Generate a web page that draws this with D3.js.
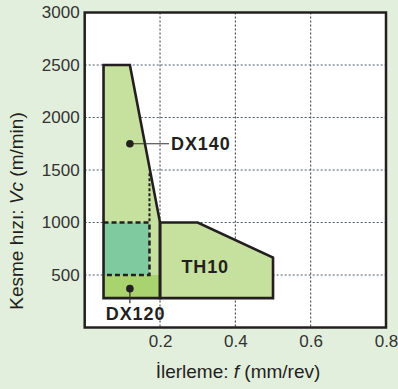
<!DOCTYPE html>
<html><head><meta charset="utf-8">
<script src="https://cdn.jsdelivr.net/npm/d3@7"></script>
<style>
html,body{margin:0;padding:0;background:#e2efdc;}
svg{display:block;font-family:"Liberation Sans",Arial,Helvetica,sans-serif;}
</style></head>
<body><svg id="c" width="398" height="389"></svg>
<script>
// ---- data ----
const xTicks = [0.2, 0.4, 0.6, 0.8];
const yTicks = [500, 1000, 1500, 2000, 2500, 3000];
const dx140Region = [[0.05,2500],[0.12,2500],[0.2,1000],[0.2,280],[0.05,280]];
const th10Region  = [[0.2,1000],[0.3,1000],[0.5,665],[0.5,280],[0.2,280]];
const dx120Strip  = [[0.05,280],[0.2,280],[0.2,500],[0.05,500]];
const dx120Core   = [[0.05,500],[0.172,500],[0.172,1000],[0.05,1000]];
const dx120Dashed = [[0.05,1000],[0.172,1000],[0.172,500],[0.05,500]];
const dx120Riser  = [[0.172,1470],[0.172,1000]];
const labelNames = ["DX140", "DX120", "TH10"];
const labelDots  = [[0.12,1750],[0.12,370]];
const labelEnds  = [[0.224,1750],[0.12,230]];
const th10LabelPos = [0.32,580];

const svg = d3.select("#c");
const x = d3.scaleLinear().domain([0,0.8]).range([84.7,386]);
const y = d3.scaleLinear().domain([0,3000]).range([327.5,12.5]);
const line = d3.line().x(d=>x(d[0])).y(d=>y(d[1]));
const ink = "#231f20";

// plot background
svg.append("rect").attr("x",x(0)).attr("y",y(3000)).attr("width",x(0.8)-x(0)).attr("height",y(0)-y(3000)).attr("fill","#fff");

// grid
const g = svg.append("g");
g.selectAll(".vg").data(xTicks.slice(0,-1)).enter().append("line")
  .attr("x1",d=>x(d)).attr("x2",d=>x(d)).attr("y1",y(3000)).attr("y2",y(0))
  .attr("stroke","#333").attr("stroke-width",1).attr("stroke-dasharray","2,2");
g.selectAll(".hg").data(yTicks.slice(0,-1)).enter().append("line")
  .attr("x1",x(0)).attr("x2",x(0.8)).attr("y1",d=>y(d)).attr("y2",d=>y(d))
  .attr("stroke","#4a5a6a").attr("stroke-width",1).attr("stroke-dasharray","2,2");

// regions
svg.append("path").attr("d",line(dx140Region)+"Z").attr("fill","#c6e09d");
svg.append("path").attr("d",line(th10Region)+"Z").attr("fill","#c6e09d");
svg.append("path").attr("d",line(dx120Strip)+"Z").attr("fill","#a8d36e");
svg.append("path").attr("d",line(dx120Core)+"Z").attr("fill","#80ca9f");
svg.append("path").attr("d",line(dx120Dashed)).attr("fill","none").attr("stroke",ink).attr("stroke-width",2.5).attr("stroke-dasharray","5,3");
svg.append("path").attr("d",line(dx120Riser)).attr("fill","none").attr("stroke",ink).attr("stroke-width",2).attr("stroke-dasharray","3,2");
svg.append("path").attr("d",line(dx140Region)+"Z").attr("fill","none").attr("stroke",ink).attr("stroke-width",2.6);
svg.append("path").attr("d",line(th10Region)+"Z").attr("fill","none").attr("stroke",ink).attr("stroke-width",2.6);

// frame
svg.append("rect").attr("x",x(0)).attr("y",y(3000)).attr("width",x(0.8)-x(0)).attr("height",y(0)-y(3000))
  .attr("fill","none").attr("stroke",ink).attr("stroke-width",2.5);

// axes
const yAxis = d3.axisLeft(y).tickValues(yTicks).tickSize(0).tickPadding(5).tickFormat(d3.format("d"));
const ya = svg.append("g").attr("transform",`translate(${x(0)},0)`).call(yAxis);
ya.select(".domain").remove();
ya.selectAll("text").attr("font-size",17).attr("fill","#333").attr("font-family","Liberation Sans, Arial, sans-serif");
const xAxis = d3.axisBottom(x).tickValues(xTicks).tickSize(0).tickPadding(7).tickFormat(d3.format(".1f"));
const xa = svg.append("g").attr("transform",`translate(0,${y(0)})`).call(xAxis);
xa.select(".domain").remove();
xa.selectAll("text").attr("font-size",17).attr("fill","#333").attr("font-family","Liberation Sans, Arial, sans-serif");

// axis titles
const xt = svg.append("text").attr("x",238).attr("y",378).attr("text-anchor","middle").attr("font-size",19).attr("fill",ink);
xt.append("tspan").text("İlerleme: ");
xt.append("tspan").attr("font-style","italic").text("f");
xt.append("tspan").text(" (mm/rev)");
const yt = svg.append("text").attr("transform","translate(23,211) rotate(-90)").attr("text-anchor","middle").attr("font-size",19).attr("fill",ink);
yt.append("tspan").text("Kesme hızı: ");
yt.append("tspan").attr("font-style","italic").text("Vc");
yt.append("tspan").text(" (m/min)");

// leader lines and dots
labelDots.forEach((d,i)=>{
  svg.append("line").attr("x1",x(d[0])).attr("y1",y(d[1])).attr("x2",x(labelEnds[i][0])).attr("y2",y(labelEnds[i][1]))
    .attr("stroke","#333").attr("stroke-width",1.2);
  svg.append("circle").attr("cx",x(d[0])).attr("cy",y(d[1])).attr("r",3.8).attr("fill",ink);
});
const lab = (s)=>s.attr("font-weight","bold").attr("font-size",18).attr("letter-spacing",0.9).attr("fill",ink);
svg.append("text").attr("x",x(labelEnds[0][0])+2).attr("y",y(labelDots[0][1])).attr("dy","0.36em").call(lab).text(labelNames[0]);
svg.append("text").attr("x",x(0.135)).attr("y",320).attr("text-anchor","middle").call(lab).text(labelNames[1]);
svg.append("text").attr("x",x(th10LabelPos[0])).attr("y",y(th10LabelPos[1])).attr("dy","0.36em").attr("text-anchor","middle").call(lab).text(labelNames[2]);
</script></body></html>
